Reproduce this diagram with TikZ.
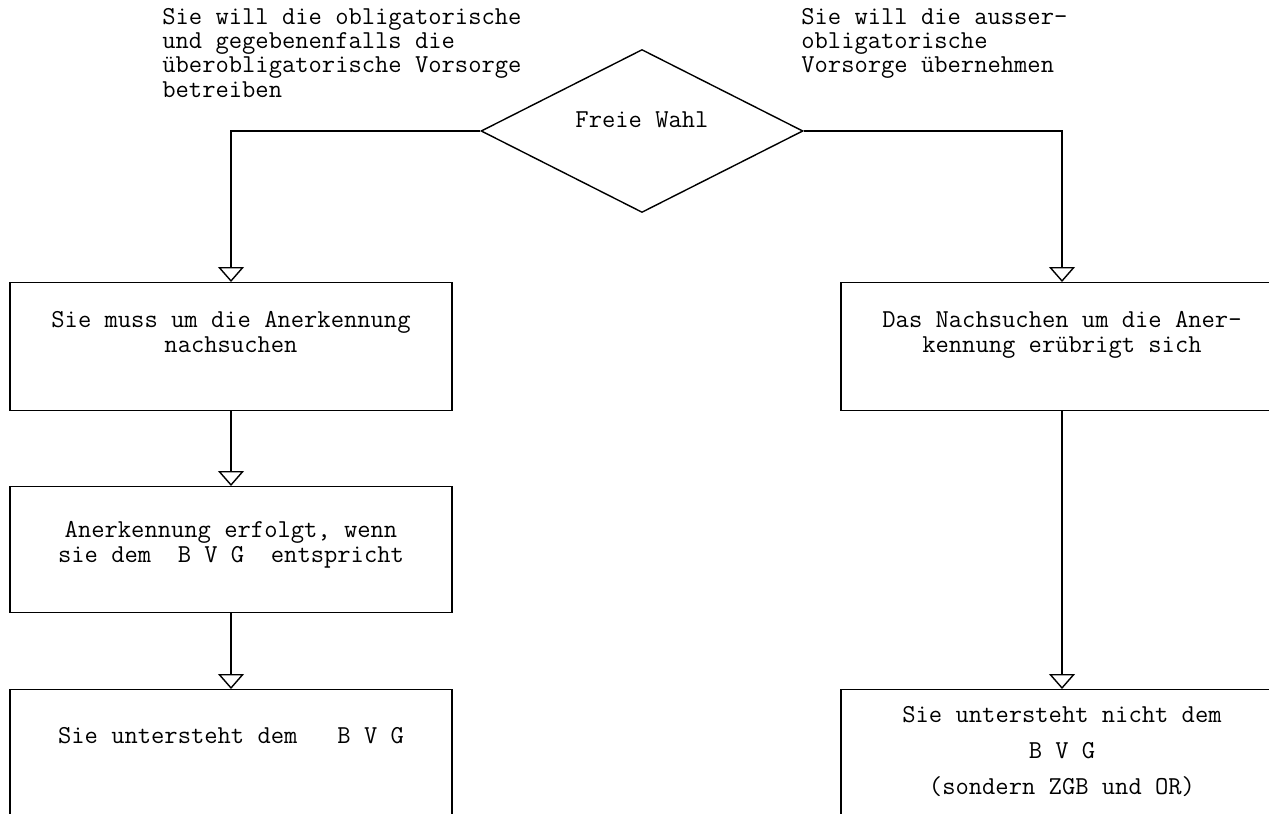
\documentclass[tikz,border=0pt]{standalone}
\usetikzlibrary{positioning,arrows.meta,shapes.geometric}
\tikzset{
    base/.style={font=\fontsize{14.7}{14.2}\selectfont\ttfamily, align=center, inner sep=0pt},
    note/.style={base, align=left, anchor=north west, font=\fontsize{14.7}{13.8}\selectfont\ttfamily},
    choicebox/.style={diamond, draw, line width=0.8pt, aspect=1.98,
                      minimum width=6.44cm, minimum height=3.26cm, inner sep=0pt},
    panel/.style={rectangle, draw, line width=0.8pt, minimum width=8.84cm, anchor=north},
    flow/.style={-{Triangle[open, width=0.52cm, length=0.3cm]}, line width=0.8pt}
}
\begin{document}
\begin{tikzpicture}[x=0.02cm, y=-0.02cm]
  \useasboundingbox (0,0) rectangle (1269,814);
  \clip (0,0) rectangle (1269,814);

  % decision
  \node[choicebox] (choice) at (642,131) {};
  \node[base] (choicetxt) at ([yshift=0.23cm]choice.center) {Freie Wahl};
  \node[note] (leftnote) at (162,8) {Sie will die obligatorische\\und gegebenenfalls die\\überobligatorische Vorsorge\\betreiben};
  \node[note] (rightnote) at (801,8) {Sie will die ausser-\\obligatorische\\Vorsorge übernehmen};

  % left branch
  \node[panel, minimum height=2.56cm] (ask) at (231,282) {};
  \node[base, below=0.59cm of ask.north] (asktxt) {Sie muss um die Anerkennung\\nachsuchen};
  \node[panel, minimum height=2.52cm] (check) at (231,486) {};
  \node[base, below=0.71cm of check.north] (checktxt) {Anerkennung erfolgt, wenn\\sie dem~~B~V~G~~entspricht};
  \node[panel, minimum height=4cm] (under) at (231,689) {};
  \node[base, below=0.77cm of under.north] (undertxt) {Sie untersteht dem~~~B~V~G};

  % right branch
  \node[panel, minimum height=2.56cm] (free) at (1062,282) {};
  \node[base, below=0.59cm of free.north] (freetxt) {Das Nachsuchen um die Aner-\\kennung erübrigt sich};
  \node[panel, minimum height=4cm] (notunder) at (1062,689) {};
  \node[base, below=0.35cm of notunder.north, font=\fontsize{14.7}{20.4}\selectfont\ttfamily] (notundertxt) {Sie untersteht nicht dem\\B~V~G\\(sondern ZGB und OR)};

  \draw[flow] (choice.west) -| (ask.north);
  \draw[flow] (choice.east) -| (free.north);
  \draw[flow] (ask) -- (check);
  \draw[flow] (check) -- (under);
  \draw[flow] (free) -- (notunder);
\end{tikzpicture}
\end{document}
